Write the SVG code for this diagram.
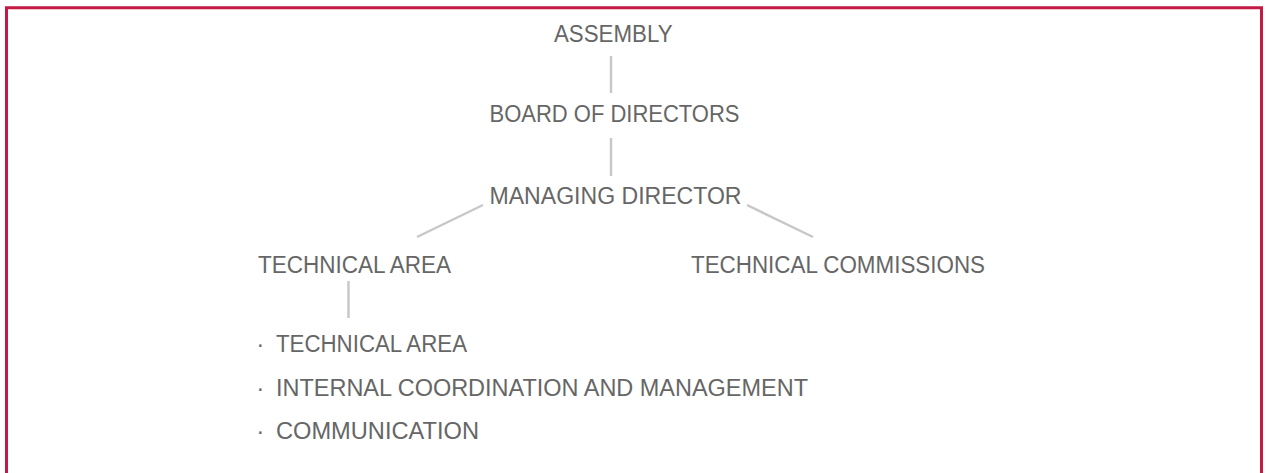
<svg xmlns="http://www.w3.org/2000/svg" width="1266" height="473" viewBox="0 0 1266 473">
<style>
.t{font-family:"Liberation Sans",Arial,sans-serif;font-size:23px;fill:#666666}
.ln{stroke:#c8c8c8;stroke-width:2.5;fill:none}
</style>
<rect width="1266" height="473" fill="#ffffff"/>
<path d="M6.5 473 V7.8 H1261.5 V473" fill="none" stroke="#c41a44" stroke-width="3"/>
<g id="connectors">
<line class="ln" x1="611" y1="56" x2="611" y2="93"/>
<line class="ln" x1="611" y1="138" x2="611" y2="176"/>
<line class="ln" x1="483" y1="205" x2="417" y2="237"/>
<line class="ln" x1="747" y1="205" x2="813" y2="237"/>
<line class="ln" x1="348.5" y1="281" x2="348.5" y2="318"/>
</g>
<g id="assembly"><text class="t" x="554" y="42" textLength="118.5" lengthAdjust="spacingAndGlyphs">ASSEMBLY</text></g>
<g id="board"><text class="t" x="489.5" y="121.5" textLength="250" lengthAdjust="spacingAndGlyphs">BOARD OF DIRECTORS</text></g>
<g id="managing"><text class="t" x="489.5" y="204" textLength="252" lengthAdjust="spacingAndGlyphs">MANAGING DIRECTOR</text></g>
<g id="technical-area"><text class="t" x="258" y="273" textLength="193" lengthAdjust="spacingAndGlyphs">TECHNICAL AREA</text></g>
<g id="technical-commissions"><text class="t" x="691" y="273" textLength="294" lengthAdjust="spacingAndGlyphs">TECHNICAL COMMISSIONS</text></g>
<g id="sub-list">
<text class="t" x="256.5" y="352">·<tspan x="276" textLength="191" lengthAdjust="spacingAndGlyphs">TECHNICAL AREA</tspan></text>
<text class="t" x="256.5" y="395.5">·<tspan x="276" textLength="532" lengthAdjust="spacingAndGlyphs">INTERNAL COORDINATION AND MANAGEMENT</tspan></text>
<text class="t" x="256.5" y="439">·<tspan x="276" textLength="203" lengthAdjust="spacingAndGlyphs">COMMUNICATION</tspan></text>
</g>
</svg>
